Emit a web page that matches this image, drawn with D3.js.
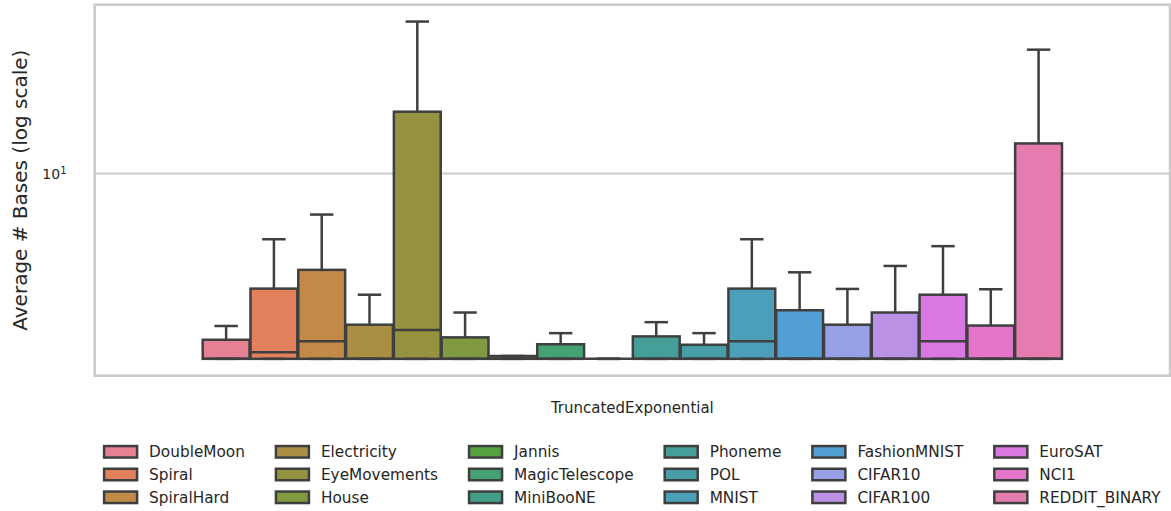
<!DOCTYPE html>
<html>
<head>
<meta charset="utf-8">
<script src="https://cdn.jsdelivr.net/npm/d3@7"></script>
<style>
  html, body { margin: 0; padding: 0; background: #ffffff; }
  svg { display: block; font-family: "DejaVu Sans", sans-serif; }
</style>
</head>
<body>
<svg id="chart" width="1171" height="511"></svg>
<script>
// ---- data -------------------------------------------------------------
const category = "TruncatedExponential";
const datasets = ["DoubleMoon", "Spiral", "SpiralHard", "Electricity", "EyeMovements", "House",
  "Jannis", "MagicTelescope", "MiniBooNE", "Phoneme", "POL", "MNIST",
  "FashionMNIST", "CIFAR10", "CIFAR100", "EuroSAT", "NCI1", "REDDIT_BINARY"];
// box statistics of the average number of bases per dataset
const lowerValues  = [2, 2, 2, 2, 2, 2, 2, 2, 2, 2, 2, 2, 2, 2, 2, 2, 2, 2];
const medianValues = [2, 2.12, 2.33, 2, 2.57, 2, 2, 2, 2, 2, 2, 2.33, 2, 2, 2, 2.33, 2, 2];
const upperQuartiles = [2.36, 3.68, 4.33, 2.69, 17.1, 2.41, 2.05, 2.27, 2, 2.43, 2.26, 3.68,
  3.05, 2.69, 2.99, 3.49, 2.67, 12.98];
const whiskerHighs = [2.66, 5.65, 7.0, 3.49, 37.4, 2.99, 2.05, 2.50, 2, 2.75, 2.50, 5.65,
  4.24, 3.67, 4.48, 5.32, 3.66, 29.3];
const yTicks = [10];
const yLabel = "Average # Bases (log scale)";

// ---- husl palette (desaturated like a seaborn box plot) ---------------
const M = [[3.2406, -1.5372, -0.4986], [-0.9689, 1.8758, 0.0415], [0.0557, -0.2040, 1.0570]];
const refU = 0.19784, refV = 0.46834;
function maxChroma(L, H) {
  const hr = H * Math.PI / 180, sinH = Math.sin(hr), cosH = Math.cos(hr);
  const sub1 = Math.pow(L + 16, 3) / 1560896;
  const sub2 = sub1 > 0.008856 ? sub1 : L / 903.3;
  let result = Infinity;
  for (const [m1, m2, m3] of M) {
    const top = (0.99915 * m1 + 1.05122 * m2 + 1.14460 * m3) * sub2;
    const rbottom = 0.86330 * m3 - 0.17266 * m2;
    const lbottom = 0.12949 * m3 - 0.38848 * m1;
    const bottom = (rbottom * sinH + lbottom * cosH) * sub2;
    for (const t of [0, 1]) {
      const C = L * (top - 1.05122 * t) / (bottom + 0.17266 * sinH * t);
      if (C > 0 && C < result) result = C;
    }
  }
  return result;
}
function fInv(t) { return Math.pow(t, 3) > 0.008856 ? Math.pow(t, 3) : (116 * t - 16) / 903.3; }
function fromLinear(c) { return c <= 0.0031308 ? 12.92 * c : 1.055 * Math.pow(c, 1 / 2.4) - 0.055; }
function huslToRgb(h, s, l) {
  const C = maxChroma(l, h) / 100 * s;
  const hr = h * Math.PI / 180;
  const U = Math.cos(hr) * C, V = Math.sin(hr) * C;
  const varY = fInv((l + 16) / 116);
  const varU = U / (13 * l) + refU, varV = V / (13 * l) + refV;
  const Y = varY;
  const X = -(9 * Y * varU) / ((varU - 4) * varV - varU * varV);
  const Z = (9 * Y - 15 * varV * Y - varV * X) / (3 * varV);
  return M.map(r => Math.min(1, Math.max(0, fromLinear(r[0] * X + r[1] * Y + r[2] * Z))));
}
const n = datasets.length;
const palette = d3.range(n).map(i => {
  const h = ((i / n + 0.01) % 1) * 359;
  const [r, g, b] = huslToRgb(h, 0.9 * 99, 0.65 * 99);
  const c = d3.hsl(d3.rgb(r * 255, g * 255, b * 255));
  c.s *= 0.75;
  return c.formatHex();
});

// ---- layout -------------------------------------------------------------
const ax = { left: 94.7, right: 1170, top: 4.7, bottom: 375.7 };
const edge = "#3f3f3f";
const gridColor = "#cccccc";
const textColor = "#262626";

const svg = d3.select("#chart");

// log scale with 5% margins in log space around the plotted range
const lo = Math.log10(d3.min(lowerValues)), hi = Math.log10(d3.max(whiskerHighs));
const pad = (hi - lo) * 0.05;
const y = d3.scaleLog().domain([Math.pow(10, lo - pad), Math.pow(10, hi + pad)])
  .range([ax.bottom, ax.top]);

const x = d3.scaleBand().domain([category]).range([ax.left, ax.right]).padding(0);
const groupWidth = x.bandwidth() * 0.8;
const cx = x(category) + x.bandwidth() / 2;
const hue = d3.scaleBand().domain(datasets).range([cx - groupWidth / 2, cx + groupWidth / 2]);
const boxW = hue.bandwidth() * 0.98;

// grid lines
svg.append("g").selectAll("line").data(yTicks).join("line")
  .attr("x1", ax.left).attr("x2", ax.right)
  .attr("y1", d => y(d)).attr("y2", d => y(d))
  .attr("stroke", gridColor).attr("stroke-width", 2.2);

// y tick labels (10^k)
const tickG = svg.append("g").attr("fill", textColor);
yTicks.forEach(v => {
  const t = tickG.append("text")
    .attr("x", 66.5).attr("y", y(v) + 5.3)
    .attr("text-anchor", "end").attr("font-size", 14);
  t.append("tspan").text(String(Math.round(Math.pow(10, Math.floor(Math.log10(v))))).slice(0, 2));
  t.append("tspan").attr("font-size", 10).attr("dy", -5).text(String(Math.round(Math.log10(v))));
});

// boxes
const rows = datasets.map((d, i) => ({
  name: d, color: palette[i], lo: lowerValues[i], med: medianValues[i],
  q3: upperQuartiles[i], wh: whiskerHighs[i]
}));
const boxes = svg.append("g").selectAll("g").data(rows).join("g");
boxes.append("rect")
  .attr("x", d => hue(d.name) + (hue.bandwidth() - boxW) / 2)
  .attr("width", boxW)
  .attr("y", d => y(d.q3))
  .attr("height", d => y(d.lo) - y(d.q3))
  .attr("fill", d => d.color)
  .attr("stroke", edge).attr("stroke-width", 2.5);
// whiskers
boxes.append("line")
  .attr("x1", d => hue(d.name) + hue.bandwidth() / 2)
  .attr("x2", d => hue(d.name) + hue.bandwidth() / 2)
  .attr("y1", d => y(d.q3)).attr("y2", d => y(d.wh))
  .attr("stroke", edge).attr("stroke-width", 2.5);
// caps
boxes.selectAll("line.cap").data(d => [{ n: d.name, v: d.wh }, { n: d.name, v: d.lo }]).join("line")
  .attr("class", "cap")
  .attr("x1", d => hue(d.n) + hue.bandwidth() / 2 - boxW / 4)
  .attr("x2", d => hue(d.n) + hue.bandwidth() / 2 + boxW / 4)
  .attr("y1", d => y(d.v)).attr("y2", d => y(d.v))
  .attr("stroke", edge).attr("stroke-width", 2.5);
// medians
boxes.append("line")
  .attr("x1", d => hue(d.name) + (hue.bandwidth() - boxW) / 2)
  .attr("x2", d => hue(d.name) + (hue.bandwidth() + boxW) / 2)
  .attr("y1", d => y(d.med)).attr("y2", d => y(d.med))
  .attr("stroke", edge).attr("stroke-width", 2.5);

// axes frame
svg.append("rect")
  .attr("x", ax.left).attr("y", ax.top)
  .attr("width", ax.right - ax.left).attr("height", ax.bottom - ax.top)
  .attr("fill", "none").attr("stroke", gridColor).attr("stroke-width", 2.6);

// axis labels
svg.append("text")
  .attr("x", cx).attr("y", 412.5)
  .attr("text-anchor", "middle").attr("font-size", 15).attr("fill", textColor)
  .text(category);
svg.append("text")
  .attr("transform", `translate(26.5,${(ax.top + ax.bottom) / 2}) rotate(-90)`)
  .attr("text-anchor", "middle").attr("font-size", 20).attr("fill", textColor)
  .text(yLabel);

// legend: 6 columns, filled column by column
const ncol = 6, nrow = Math.ceil(n / ncol);
const fs = 15.3, handleW = 33, handleH = 11.5, textPad = 12, colGap = 31;
const rowY = [451.8, 474.5, 497.3];
const legend = svg.append("g");
const items = rows.map((d, i) => ({ ...d, col: Math.floor(i / nrow), row: i % nrow }));
const texts = legend.selectAll("text").data(items).join("text")
  .attr("font-size", fs).attr("fill", textColor)
  .attr("y", d => rowY[d.row] + 5.5)
  .text(d => d.name);
const widths = [];
texts.each(function (d) { widths[d.col] = Math.max(widths[d.col] || 0, this.getComputedTextLength()); });
const colX = [];
let acc = 0;
for (let c = 0; c < ncol; c++) { colX.push(acc); acc += handleW + textPad + widths[c] + (c < ncol - 1 ? colGap : 0); }
const legLeft = cx - acc / 2;
texts.attr("x", d => legLeft + colX[d.col] + handleW + textPad);
legend.selectAll("rect").data(items).join("rect")
  .attr("x", d => legLeft + colX[d.col])
  .attr("y", d => rowY[d.row] - handleH / 2)
  .attr("width", handleW).attr("height", handleH)
  .attr("fill", d => d.color).attr("stroke", edge).attr("stroke-width", 2.5);
</script>
</body>
</html>
